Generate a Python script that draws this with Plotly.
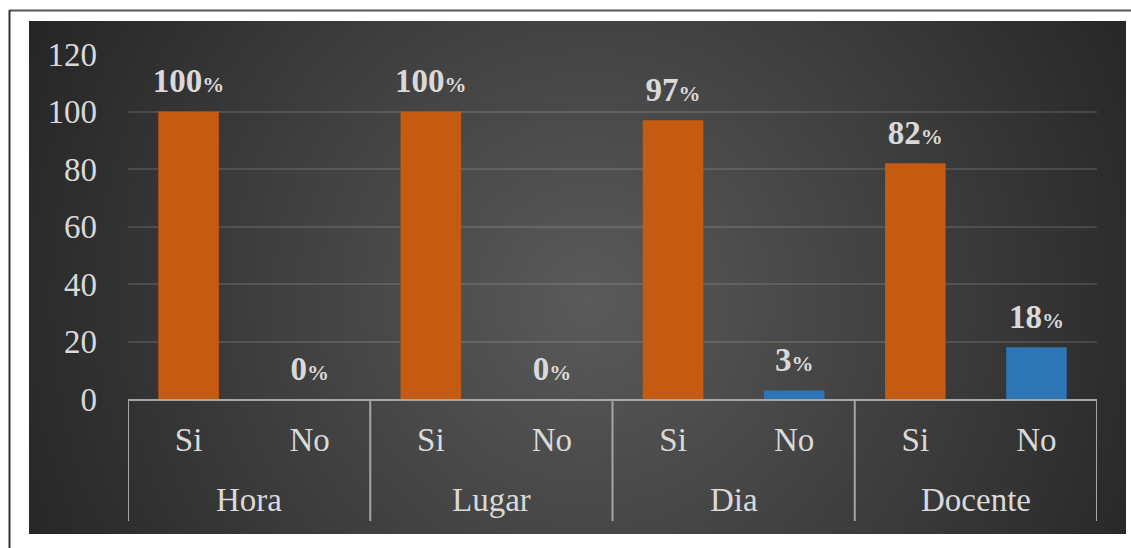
import base64
import plotly.graph_objects as go

# ---- data ----
categories = ["Hora", "Lugar", "Dia", "Docente"]
answers = ["Si", "No"]
si_values = [100, 100, 97, 82]
no_values = [0, 0, 3, 18]
y_ticks = [0, 20, 40, 60, 80, 100, 120]

ORANGE = "#C55A11"
BLUE = "#2E75B6"
TXT = "#D9D9D9"
LINE = "#A6A6A6"
FONT = "Liberation Serif, Times New Roman, serif"

subs, vals, cols = [], [], []
for c, s, n in zip(categories, si_values, no_values):
    subs += answers
    vals += [s, n]
    cols += [ORANGE, BLUE]
xpos = list(range(len(vals)))
n_sub = len(answers)

labels = [f"<b>{v}<span style='font-size:22px'>%</span></b>" for v in vals]

# ---- geometry (pixels) ----
W, H = 1131, 548
PL, PR, PT, PB = 128, 1097, 54, 399  # plot area edges
pw, ph = PR - PL, PB - PT

svg = f"""<svg xmlns='http://www.w3.org/2000/svg' width='{W}' height='{H}' viewBox='0 0 {W} {H}' preserveAspectRatio='none'>
<defs><radialGradient id='g' gradientUnits='userSpaceOnUse' cx='590' cy='300' r='640'>
<stop offset='0' stop-color='#5a5a5a'/><stop offset='1' stop-color='#242424'/></radialGradient></defs>
<rect x='0' y='0' width='{W}' height='{H}' fill='white'/>
<rect x='29' y='21' width='1097' height='513' fill='url(#g)'/>
<line x1='9.5' y1='10.5' x2='{W}' y2='10.5' stroke='#555555' stroke-width='2'/>
<line x1='9.5' y1='10' x2='9.5' y2='{H}' stroke='#333333' stroke-width='2'/>
</svg>"""
src = "data:image/svg+xml;base64," + base64.b64encode(svg.encode()).decode()

fig = go.Figure()
fig.add_trace(go.Bar(
    x=xpos, y=vals, marker=dict(color=cols, line=dict(width=0)),
    width=0.5, hoverinfo="skip", showlegend=False,
))
fig.add_trace(go.Scatter(
    x=xpos, y=vals, mode="markers+text", text=labels,
    textposition="top center",
    textfont=dict(family=FONT, size=33, color=TXT),
    marker=dict(size=16, opacity=0), hoverinfo="skip", showlegend=False,
    cliponaxis=False,
))

fig.add_layout_image(dict(
    source=src, xref="paper", yref="paper",
    x=(0 - PL) / pw, y=(PB - 0) / ph,
    sizex=W / pw, sizey=H / ph,
    xanchor="left", yanchor="top", sizing="stretch", layer="below",
))

# group dividers and group labels
div_bottom = (PB - 521) / ph
for i in range(len(categories) + 1):
    xd = i * n_sub - 0.5
    fig.add_shape(type="line", xref="x", yref="paper", x0=xd, x1=xd,
                  y0=div_bottom, y1=0, line=dict(color=LINE, width=2))
for i, c in enumerate(categories):
    fig.add_annotation(x=i * n_sub + (n_sub - 1) / 2, y=(PB - 500) / ph,
                       xref="x", yref="paper", text=c, showarrow=False,
                       yanchor="middle", font=dict(family=FONT, size=33, color=TXT))

fig.update_layout(
    width=W, height=H,
    margin=dict(l=PL, r=W - PR, t=PT, b=H - PB, pad=0),
    paper_bgcolor="white", plot_bgcolor="rgba(0,0,0,0)",
    font=dict(family=FONT, size=33, color=TXT),
)
fig.update_xaxes(
    showline=True, linecolor=LINE, linewidth=2, showgrid=False, ticks="",
    tickvals=xpos, ticktext=subs, zeroline=False,
    tickfont=dict(family=FONT, size=33, color=TXT),
    range=[-0.5, len(vals) - 0.5], ticklabelstandoff=10,
)
fig.update_yaxes(
    range=[0, 120], tickvals=y_ticks, showgrid=True,
    gridcolor="rgba(255,255,255,0.12)", gridwidth=1.5, zeroline=False,
    showline=False, ticks="", ticklabelstandoff=30,
    tickfont=dict(family=FONT, size=33, color=TXT),
)

fig.write_html("out.html")
